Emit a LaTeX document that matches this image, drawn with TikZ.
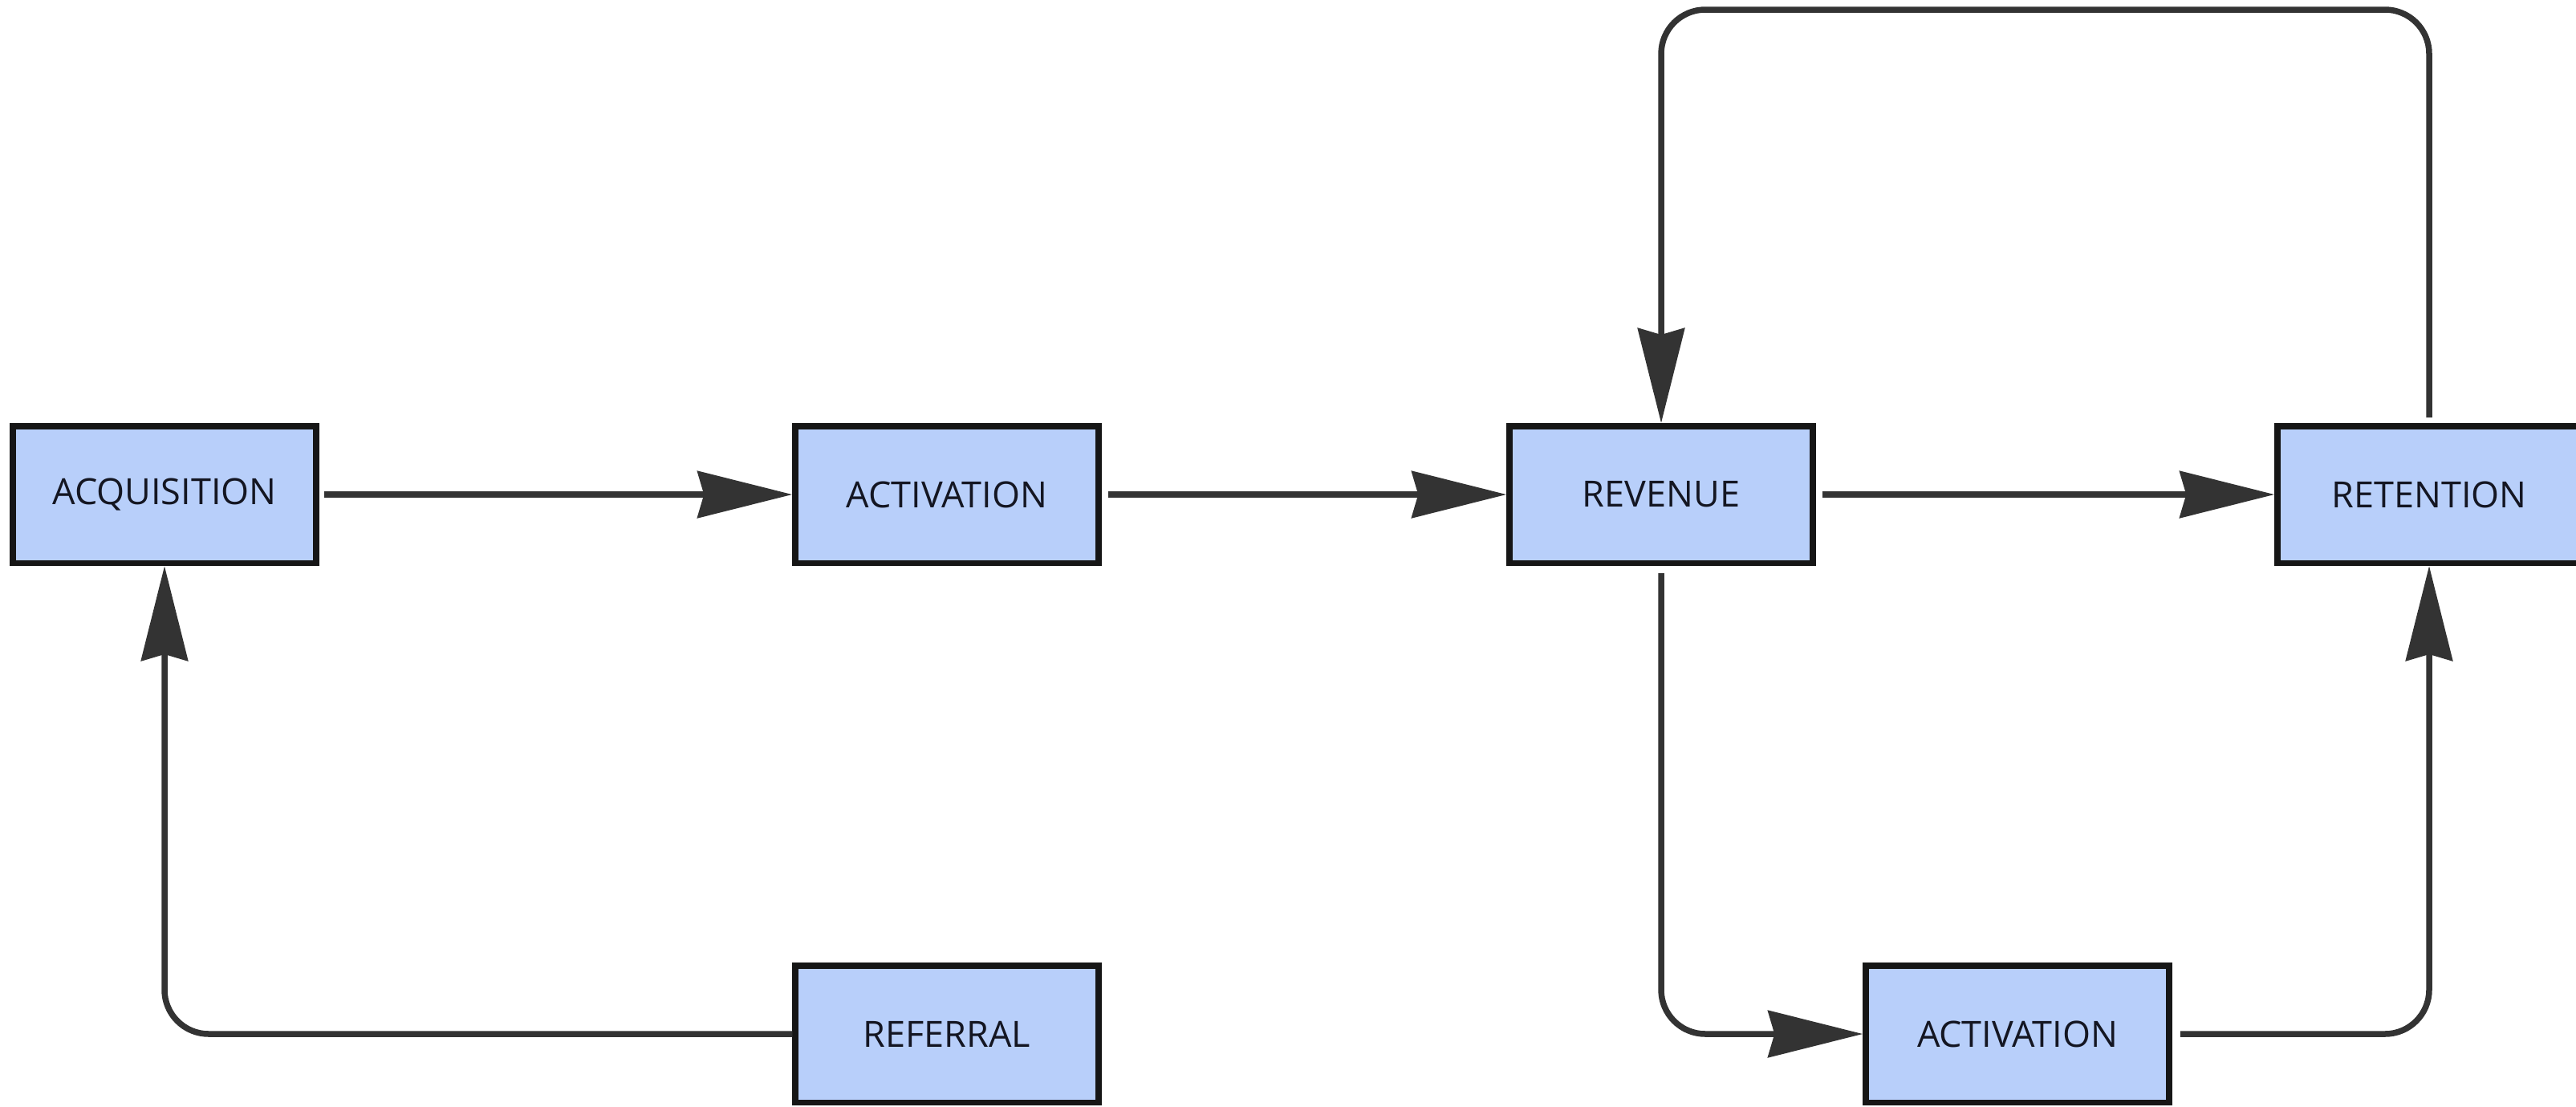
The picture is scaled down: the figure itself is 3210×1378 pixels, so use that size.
\documentclass[tikz,border=0pt]{standalone}
\usepackage{fontspec}
\setmainfont{Open Sans}
\usetikzlibrary{arrows.meta}
\definecolor{boxfill}{RGB}{184,207,250}
\definecolor{boxline}{RGB}{22,22,22}
\definecolor{wire}{RGB}{51,51,51}
\definecolor{ink}{RGB}{20,22,34}
\begin{document}
\begin{tikzpicture}[x=0.1mm,y=-0.1mm,
  stage/.style={draw=boxline, line width=0.75mm, fill=boxfill, text=ink,
    minimum width=37.8mm, minimum height=17.05mm, inner sep=0pt,
    font=\fontsize{12.8pt}{15pt}\selectfont},
  flow/.style={draw=wire, line width=0.75mm, rounded corners=5.5mm,
    -{Stealth[length=11.8mm, width=5.8mm, inset=0.8mm]}}]
  \useasboundingbox (0,0) rectangle (3210,1378);

  % funnel stages
  \node[stage] (acq)  at (205,616)  {ACQUISITION};
  \node[stage] (act)  at (1180,616) {ACTIVATION};
  \node[stage] (rev)  at (2070,616) {REVENUE};
  \node[stage] (ret)  at (3027,616) {RETENTION};
  \node[stage] (ref)  at (1180,1288) {REFERRAL};
  \node[stage] (act2) at (2514,1288) {ACTIVATION};

  % corner of the loop above
  \coordinate (loop) at (2070,12);

  % main row
  \draw[flow, shorten <=0.6mm] (acq.east) -- (act.west);
  \draw[flow, shorten <=0.8mm] (act.east) -- (rev.west);
  \draw[flow, shorten <=0.8mm] (rev.east) -- (ret.west);

  % referral feeds acquisition
  \draw[flow] (ref.west) -| (acq.south);

  % branch through the second activation
  \draw[flow, shorten <=0.9mm] (rev.south) |- (act2.west);
  \draw[flow, shorten <=1mm] (act2.east) -| (ret.south);

  % retention loops back to revenue
  \draw[flow, shorten <=0.7mm] (ret.north) |- (loop) -- (rev.north);
\end{tikzpicture}
\end{document}
